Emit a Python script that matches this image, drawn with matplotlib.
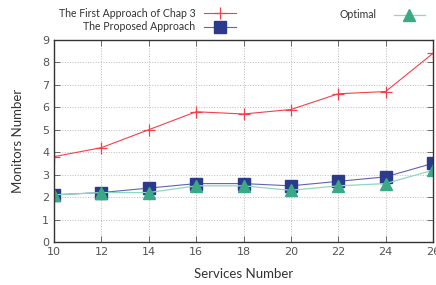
import matplotlib
matplotlib.use('Agg')
import matplotlib.pyplot as plt
from matplotlib.lines import Line2D

services = [10, 12, 14, 16, 18, 20, 22, 24, 26]
first_chap3 = [3.8, 4.2, 5.0, 5.8, 5.7, 5.9, 6.6, 6.7, 8.4]
proposed = [2.1, 2.2, 2.4, 2.6, 2.6, 2.5, 2.7, 2.9, 3.5]
optimal = [2.1, 2.2, 2.2, 2.5, 2.5, 2.3, 2.5, 2.6, 3.2]

plt.rcParams.update({
    'font.family': 'DejaVu Sans',
    'axes.linewidth': 1.0,
})

fig = plt.figure(figsize=(4.36, 2.85), dpi=100)
ax = fig.add_axes([0.124, 0.151, 0.869, 0.709])

ax.plot(services, first_chap3, color='#f2414b', lw=0.8, marker='+', ms=9, mew=0.9)
ax.plot(services, proposed, color='#6064b0', lw=0.8, marker='s', ms=8,
        mfc='#2b3a8c', mec='#2b3a8c')
ax.plot(services, optimal, color='#8fd8bf', lw=0.9, marker='^', ms=9,
        mfc='#3aa985', mec='#3aa985')

ax.set_xlim(10, 26)
ax.set_ylim(0, 9)
ax.set_xticks(services)
ax.set_yticks(range(10))
ax.grid(True, linestyle=':', color='#bbbbbb', linewidth=0.7)
ax.tick_params(direction='in', top=True, right=True, length=4, width=0.6,
               labelsize=8, labelcolor='#555555', color='#555555')
for s in ax.spines.values():
    s.set_color('#333333')

ax.set_xlabel('Services Number', fontsize=9.5, family='Lato', color='#333333', labelpad=8)
ax.set_ylabel('Monitors Number', fontsize=9.5, family='Lato', color='#333333', labelpad=13)

h1 = Line2D([], [], color='#f2414b', lw=0.8, marker='+', ms=9, mew=0.9)
h2 = Line2D([], [], color='#6064b0', lw=0.8, marker='s', ms=8, mfc='#2b3a8c', mec='#2b3a8c')
h3 = Line2D([], [], color='#8fd8bf', lw=0.9, marker='^', ms=9, mfc='#3aa985', mec='#3aa985')

leg1 = fig.legend([h1, h2], ['The First Approach of Chap 3', 'The Proposed Approach'],
                  loc='center right', bbox_to_anchor=(0.555, 0.93), frameon=False,
                  markerfirst=False, prop={'family': 'Lato', 'size': 7.6},
                  handlelength=3.0, labelspacing=0.25, borderpad=0.1,
                  labelcolor='#333333')
leg2 = fig.legend([h3], ['Optimal'],
                  loc='center right', bbox_to_anchor=(0.99, 0.948), frameon=False,
                  markerfirst=False, prop={'family': 'Lato', 'size': 7.6},
                  handlelength=3.0, handletextpad=1.6, borderpad=0.1,
                  labelcolor='#333333')
leg1._legend_box.align = 'right'

fig.savefig('out.png', dpi=100)
